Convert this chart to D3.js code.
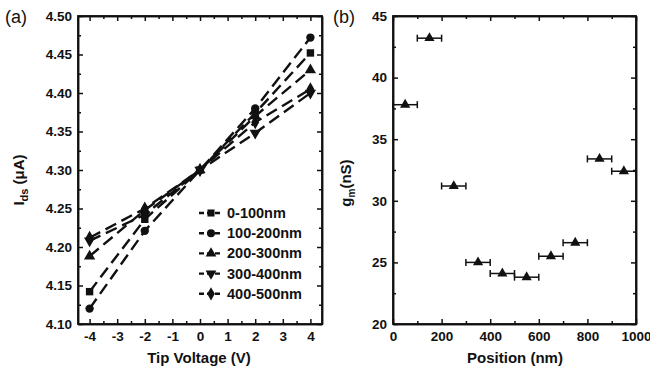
<!DOCTYPE html>
<html lang="en">
<head>
<meta charset="utf-8">
<title>Ids and gm</title>
<script src="https://cdn.jsdelivr.net/npm/d3@7"></script>
<style>
body { margin: 0; background: #fff; }
svg text { font-family: "Liberation Sans", Arial, sans-serif; font-weight: bold; fill: #111; }
.axis path, .axis line { stroke: #111; stroke-width: 1.5px; }
</style>
</head>
<body>
<script>
var W = 650, H = 372;

// panel (a): Ids vs tip voltage
var voltages = [-4, -2, 0, 2, 4];
var seriesNames = ["0-100nm", "100-200nm", "200-300nm", "300-400nm", "400-500nm"];
var symbols = ["square", "circle", "triangle", "triangleDown", "diamond"];
var ids0 = [4.142, 4.236, 4.300, 4.374, 4.452];
var ids1 = [4.120, 4.221, 4.300, 4.380, 4.472];
var ids2 = [4.188, 4.248, 4.300, 4.370, 4.430];
var ids3 = [4.208, 4.242, 4.300, 4.348, 4.400];
var ids4 = [4.212, 4.250, 4.300, 4.362, 4.405];
var idsSeries = [ids0, ids1, ids2, ids3, ids4];
var yTicksA = [4.10, 4.15, 4.20, 4.25, 4.30, 4.35, 4.40, 4.45, 4.50];
var xTicksA = [-4, -3, -2, -1, 0, 1, 2, 3, 4];

// panel (b): gm vs position
var positions = [50, 150, 250, 350, 450, 550, 650, 750, 850, 950];
var gm = [37.8, 43.2, 31.2, 25.0, 24.1, 23.8, 25.5, 26.6, 33.4, 32.4];
var posErr = [50, 50, 50, 50, 50, 50, 50, 50, 50, 50];
var yTicksB = [20, 25, 30, 35, 40, 45];
var xTicksB = [0, 200, 400, 600, 800, 1000];

var svg = d3.select("body").append("svg").attr("width", W).attr("height", H);

var symMap = {
  square: d3.symbolSquare, circle: d3.symbolCircle, triangle: d3.symbolTriangle,
  diamond: d3.symbolDiamond
};
function symPath(name, size) {
  if (name === "triangleDown") {
    return d3.symbol().type(d3.symbolTriangle).size(size)();
  }
  return d3.symbol().type(symMap[name]).size(size)();
}
function symTransform(name, x, y) {
  return "translate(" + x + "," + y + ")" + (name === "triangleDown" ? " rotate(180)" : "");
}

function frame(g, x, y, xt, yt, xMinor, yMinor, xFmt, yFmt) {
  var x0 = x.range()[0], x1 = x.range()[1], y0 = y.range()[0], y1 = y.range()[1];
  // bottom
  g.append("g").attr("class", "axis").attr("transform", "translate(0," + y0 + ")")
    .call(d3.axisBottom(x).tickValues(xt).tickFormat(xFmt).tickSizeInner(-5).tickSizeOuter(0).tickPadding(7));
  g.append("g").attr("class", "axis").attr("transform", "translate(0," + y0 + ")")
    .call(d3.axisBottom(x).tickValues(xMinor).tickFormat("").tickSizeInner(-3).tickSizeOuter(0));
  // top
  g.append("g").attr("class", "axis").attr("transform", "translate(0," + y1 + ")")
    .call(d3.axisTop(x).tickValues(xt).tickFormat("").tickSizeInner(-5).tickSizeOuter(0));
  g.append("g").attr("class", "axis").attr("transform", "translate(0," + y1 + ")")
    .call(d3.axisTop(x).tickValues(xMinor).tickFormat("").tickSizeInner(-3).tickSizeOuter(0));
  // left
  g.append("g").attr("class", "axis").attr("transform", "translate(" + x0 + ",0)")
    .call(d3.axisLeft(y).tickValues(yt).tickFormat(yFmt).tickSizeInner(-5).tickSizeOuter(0).tickPadding(6));
  g.append("g").attr("class", "axis").attr("transform", "translate(" + x0 + ",0)")
    .call(d3.axisLeft(y).tickValues(yMinor).tickFormat("").tickSizeInner(-3).tickSizeOuter(0));
  // right
  g.append("g").attr("class", "axis").attr("transform", "translate(" + x1 + ",0)")
    .call(d3.axisRight(y).tickValues(yt).tickFormat("").tickSizeInner(-5).tickSizeOuter(0));
  g.append("g").attr("class", "axis").attr("transform", "translate(" + x1 + ",0)")
    .call(d3.axisRight(y).tickValues(yMinor).tickFormat("").tickSizeInner(-3).tickSizeOuter(0));
  g.selectAll(".axis text").style("font-size", "13.5px");
  g.append("rect").attr("x", x0).attr("y", y1).attr("width", x1 - x0).attr("height", y0 - y1)
    .attr("fill", "none").attr("stroke", "#111").attr("stroke-width", 1.8);
}

// ---- panel (a)
var xA = d3.scaleLinear().domain([-4.42, 4.42]).range([78, 322]);
var yA = d3.scaleLinear().domain([4.10, 4.50]).range([324, 16]);
var gA = svg.append("g");
frame(gA, xA, yA, xTicksA, yTicksA,
  d3.range(-4, 4.01, 0.5).filter(function(v) { return v % 1 !== 0; }),
  d3.range(4.125, 4.5, 0.05),
  function(d) { return String(d); }, d3.format(".2f"));

var line = d3.line().x(function(d, i) { return xA(voltages[i]); }).y(function(d) { return yA(d); });
idsSeries.forEach(function(s, k) {
  gA.append("path").attr("d", line(s)).attr("fill", "none").attr("stroke", "#111")
    .attr("stroke-width", 2.4).attr("stroke-dasharray", "12,6");
});
idsSeries.forEach(function(s, k) {
  gA.selectAll(null).data(s).enter().append("path")
    .attr("d", symPath(symbols[k], 55))
    .attr("transform", function(d, i) { return symTransform(symbols[k], xA(voltages[i]), yA(d)); })
    .attr("fill", "#111");
});

// legend
var leg = gA.append("g").attr("transform", "translate(199,213)");
seriesNames.forEach(function(name, k) {
  var row = leg.append("g").attr("transform", "translate(0," + (k * 20.2) + ")");
  row.append("line").attr("x1", 0).attr("x2", 24).attr("y1", 0).attr("y2", 0)
    .attr("stroke", "#111").attr("stroke-width", 2.4).attr("stroke-dasharray", "5,3");
  row.append("path").attr("d", symPath(symbols[k], 50))
    .attr("transform", symTransform(symbols[k], 12, 0)).attr("fill", "#111");
  row.append("text").attr("x", 28).attr("y", 5).style("font-size", "14.5px").text(name);
});

gA.append("text").attr("x", 199).attr("y", 363).attr("text-anchor", "middle")
  .style("font-size", "15px").text("Tip Voltage (V)");
var yl = gA.append("text").attr("transform", "translate(24,180) rotate(-90)")
  .attr("text-anchor", "middle").style("font-size", "15px");
yl.append("tspan").text("I");
yl.append("tspan").attr("dy", 4).style("font-size", "11px").text("ds");
yl.append("tspan").attr("dy", -4).text(" (\u03bcA)");
svg.append("text").attr("x", 5).attr("y", 23).style("font-size", "18px")
  .style("font-weight", "normal").text("(a)");

// ---- panel (b)
var xB = d3.scaleLinear().domain([0, 1000]).range([393, 636]);
var yB = d3.scaleLinear().domain([20, 45]).range([324, 16]);
var gB = svg.append("g");
frame(gB, xB, yB, xTicksB, yTicksB,
  [100, 300, 500, 700, 900], [22.5, 27.5, 32.5, 37.5, 42.5],
  d3.format("d"), d3.format("d"));

gB.selectAll(null).data(gm).enter().append("line")
  .attr("x1", function(d, i) { return xB(positions[i] - posErr[i]); })
  .attr("x2", function(d, i) { return xB(positions[i] + posErr[i]); })
  .attr("y1", function(d) { return yB(d); }).attr("y2", function(d) { return yB(d); })
  .attr("stroke", "#111").attr("stroke-width", 1.5);
[-1, 1].forEach(function(sgn) {
  gB.selectAll(null).data(gm).enter().append("line")
    .attr("x1", function(d, i) { return xB(positions[i] + sgn * posErr[i]); })
    .attr("x2", function(d, i) { return xB(positions[i] + sgn * posErr[i]); })
    .attr("y1", function(d) { return yB(d) - 3.5; }).attr("y2", function(d) { return yB(d) + 3.5; })
    .attr("stroke", "#111").attr("stroke-width", 1.5);
});
gB.selectAll(null).data(gm).enter().append("path")
  .attr("d", symPath("triangle", 45))
  .attr("transform", function(d, i) { return symTransform("triangle", xB(positions[i]), yB(d)); })
  .attr("fill", "#111");

gB.append("text").attr("x", 515).attr("y", 363).attr("text-anchor", "middle")
  .style("font-size", "15px").text("Position (nm)");
var yl2 = gB.append("text").attr("transform", "translate(351,183) rotate(-90)")
  .attr("text-anchor", "middle").style("font-size", "15px");
yl2.append("tspan").text("g");
yl2.append("tspan").attr("dy", 4).style("font-size", "10px").text("m");
yl2.append("tspan").attr("dy", -4).text("(nS)");
svg.append("text").attr("x", 333).attr("y", 23).style("font-size", "18px")
  .style("font-weight", "normal").text("(b)");
</script>
</body>
</html>
